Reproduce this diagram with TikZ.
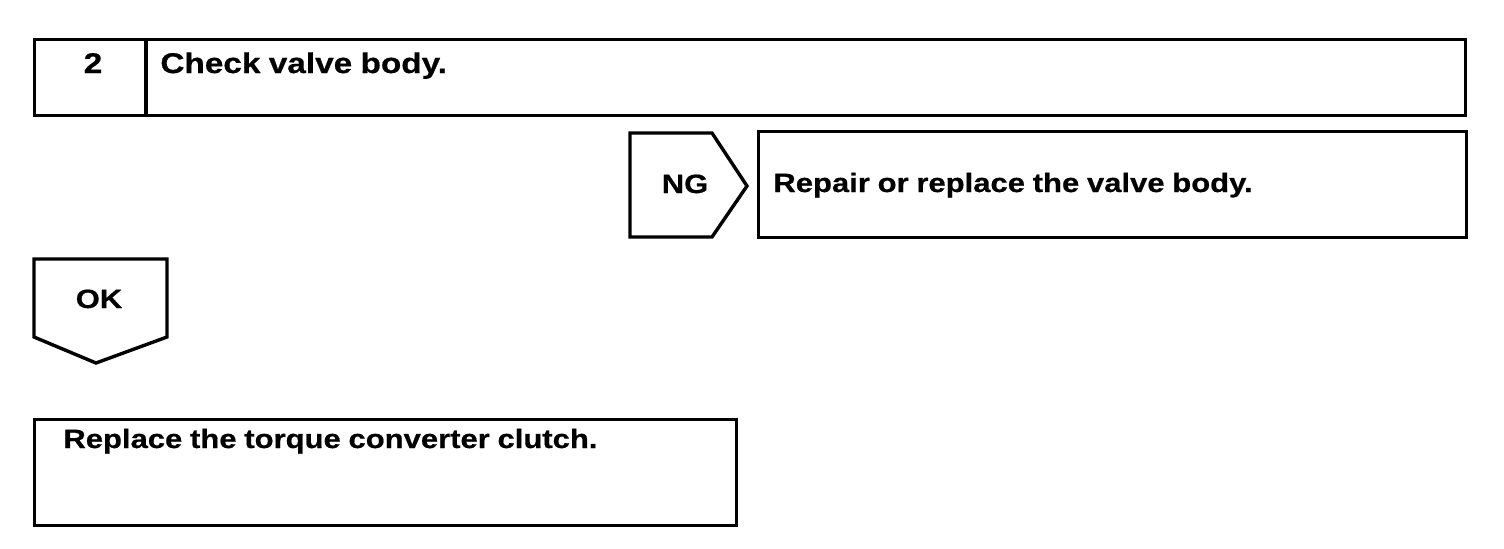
\documentclass[tikz,border=0pt]{standalone}
\usepackage{fontspec}
\setmainfont{Liberation Sans}[FakeStretch=1.17, WordSpace=0.9, FakeBold=0.6]
\usetikzlibrary{positioning}

\tikzset{
	frame/.style={draw, line width=1.7pt, inner sep=0pt, anchor=north west},
	tag/.style={draw, line width=1.7pt, line join=miter},
	txt/.style={font=\bfseries\fontsize{13.25}{16}\selectfont, inner sep=0pt, anchor=base west},
	big/.style={font=\bfseries\fontsize{14.25}{17}\selectfont, inner sep=0pt}
}

\begin{document}
\begin{tikzpicture}[x=0.5pt, y=-0.5pt]

	\useasboundingbox (0,0) rectangle (1504,548);

	% step header
	\node[frame, minimum width=715.5pt, minimum height=38pt] (head) at (33,38) {};
	\draw[line width=1.7pt] (146,38) coordinate (divtop) -- (146,114) coordinate (divbot);
	\node[big, anchor=base] (num) at (93,73) {2};
	\node[big, anchor=base west] (check) at (160,73) {Check valve body.};

	% NG branch
	\draw[tag] (630,133) -- (712,133) -- (747,186) -- (712,237) -- (630,237) -- cycle;
	\node[txt, anchor=base] (ng) at (685,193) {NG};
	\node[frame, minimum width=354pt, minimum height=53pt] (repair) at (757,130) {};
	\node[txt] (repairtxt) at (773,192) {Repair or replace the valve body.};

	% OK branch
	\draw[tag] (34,259) -- (167,259) -- (167,337) -- (96,363) -- (34,337) -- cycle;
	\node[txt, anchor=base] (ok) at (99,308) {OK};

	\node[frame, minimum width=351pt, minimum height=53pt] (replace) at (33,418) {};
	\node[txt] (replacetxt) at (63,448) {Replace the torque converter clutch.};

\end{tikzpicture}
\end{document}
